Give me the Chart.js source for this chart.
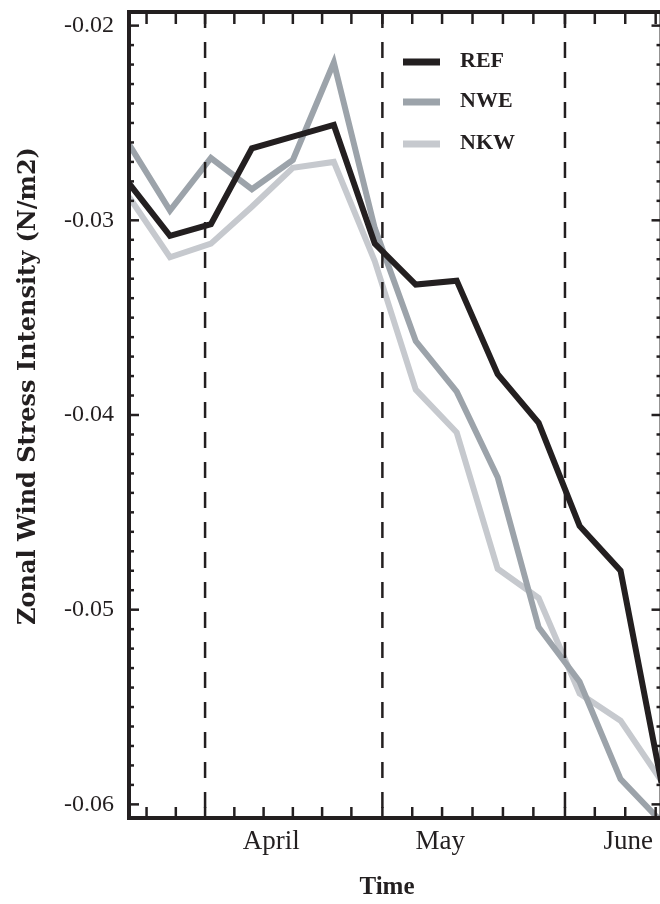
<!DOCTYPE html>
<html>
<head>
<meta charset="utf-8">
<script src="https://cdn.jsdelivr.net/npm/chart.js@4.4.0/dist/chart.umd.min.js"></script>
<style>
html,body{margin:0;padding:0;background:#fff;}
#wrap{width:660px;height:904px;position:relative;}
</style>
</head>
<body>
<div id="wrap"><canvas id="c"></canvas></div>
<script>
// ---- data ----
const seriesNames = ['REF', 'NWE', 'NKW'];
// days after 19 March (weekly samples)
const sampleDays = [0, 7, 14, 21, 28, 35, 42, 49, 56, 63, 70, 77, 84, 91];
const refValues = [-0.0281, -0.0308, -0.0302, -0.0263, -0.0257, -0.0251, -0.0312, -0.0333, -0.0331, -0.0379, -0.0404, -0.0457, -0.0480, -0.0589];
const nweValues = [-0.0261, -0.0295, -0.0268, -0.0284, -0.0269, -0.0219, -0.0304, -0.0362, -0.0388, -0.0432, -0.0509, -0.0537, -0.0587, -0.0609];
const nkwValues = [-0.0288, -0.0319, -0.0312, -0.0293, -0.0273, -0.0270, -0.0321, -0.0387, -0.0409, -0.0479, -0.0494, -0.0543, -0.0557, -0.0588];
const yTickValues = [-0.06, -0.05, -0.04, -0.03, -0.02];
const monthNames = ['April', 'May', 'June'];
const monthLabelDays = [24.3, 53.2, 85.3];
const monthStartDays = [13, 43.3, 74.5];
const xMinorTickDays = [3, 8, 13, 18, 23, 28, 33, 38, 43.3, 48.4, 53.5, 58.7, 63.9, 69.1, 74.5, 79.6, 84.8, 90];
const xTitle = 'Time';
const yTitle = 'Zonal Wind Stress Intensity (N/m2)';

// ---- style ----
const ink = '#231f20';
const colors = ['#231f20', '#9ca3aa', '#c6c9ce'];
const seriesValues = [refValues, nweValues, nkwValues];

const yMinorTicks = [];
for (let k = 0; k <= 40; k++) yMinorTicks.push(-0.06 + k * 0.001);

const framePlugin = {
  id: 'frame',
  afterDatasetsDraw(chart) {
    const { ctx, chartArea: a, scales: { x, y } } = chart;
    const line = (x1, y1, x2, y2) => { ctx.beginPath(); ctx.moveTo(x1, y1); ctx.lineTo(x2, y2); ctx.stroke(); };
    // the figure's right frame sits at the last sample (just past the visible edge)
    const xr = x.getPixelForValue(sampleDays[sampleDays.length - 1]);
    ctx.save();
    ctx.strokeStyle = ink;
    ctx.lineCap = 'butt';
    // dashed month boundaries
    ctx.lineWidth = 2.5;
    ctx.setLineDash([16, 14]);
    monthStartDays.forEach(d => { const px = x.getPixelForValue(d); line(px, a.top, px, a.bottom); });
    ctx.setLineDash([]);
    // x ticks (inward, bottom and top)
    ctx.lineWidth = 2.5;
    xMinorTickDays.forEach(d => {
      const px = x.getPixelForValue(d);
      line(px, a.bottom, px, a.bottom - 11);
      line(px, a.top, px, a.top + 12);
    });
    // y ticks (inward, left and right)
    yMinorTicks.forEach(v => {
      const py = y.getPixelForValue(v);
      const major = yTickValues.some(t => Math.abs(t - v) < 1e-6);
      const L = major ? 10 : 5;
      ctx.lineWidth = 2.5;
      line(a.left, py, a.left + L, py);
      line(xr, py, xr - L, py);
    });
    // spines
    ctx.lineWidth = 4;
    ctx.lineCap = 'square';
    line(a.left, a.top, xr, a.top);
    line(a.left, a.bottom, xr, a.bottom);
    line(a.left, a.top, a.left, a.bottom);
    line(xr, a.top, xr, a.bottom);
    ctx.lineCap = 'butt';
    // legend
    const legY = [62, 102, 144];
    ctx.font = 'bold 22px "Liberation Serif"';
    ctx.textBaseline = 'middle';
    ctx.textAlign = 'left';
    seriesNames.forEach((n, i) => {
      ctx.strokeStyle = colors[i];
      ctx.lineWidth = 7;
      line(403, legY[i], 440, legY[i]);
      ctx.fillStyle = ink;
      ctx.fillText(n, 460, legY[i] - 1);
    });
    // axis titles
    ctx.fillStyle = ink;
    ctx.font = 'bold 25px "Liberation Serif"';
    ctx.textAlign = 'center';
    ctx.textBaseline = 'middle';
    ctx.fillText(xTitle, 387, 888);
    ctx.save();
    ctx.translate(29, 386);
    ctx.rotate(-Math.PI / 2);
    ctx.font = 'bold 24px "DejaVu Serif"';
    ctx.fillText(yTitle, 0, 0);
    ctx.restore();
    ctx.restore();
  }
};

new Chart(document.getElementById('c'), {
  type: 'line',
  data: {
    datasets: seriesNames.map((n, i) => ({
      label: n,
      data: sampleDays.map((d, j) => ({ x: d, y: seriesValues[i][j] })),
      borderColor: colors[i],
      backgroundColor: colors[i],
      borderWidth: 6,
      pointRadius: 0,
      tension: 0,
      borderJoinStyle: 'miter',
      borderCapStyle: 'butt',
      fill: false
    }))
  },
  options: {
    responsive: true,
    maintainAspectRatio: false,
    animation: false,
    devicePixelRatio: 1,
    layout: { padding: { top: 12, right: 0, left: 0, bottom: 0 } },
    plugins: { legend: { display: false }, tooltip: { enabled: false } },
    scales: {
      x: {
        type: 'linear',
        min: 0,
        max: 90.74,
        grid: { display: false, drawTicks: false },
        border: { display: false },
        afterFit: s => { s.height = 86; s.paddingLeft = 0; s.paddingRight = 0; },
        afterBuildTicks: s => { s.ticks = monthLabelDays.map(v => ({ value: v })); },
        ticks: {
          autoSkip: false,
          maxRotation: 0,
          padding: 8,
          color: ink,
          font: { family: '"Liberation Serif"', size: 27 },
          callback: (v, i) => monthNames[i]
        }
      },
      y: {
        type: 'linear',
        min: -0.0607,
        max: -0.0193,
        grid: { display: false, drawTicks: false },
        border: { display: false },
        afterFit: s => { s.width = 129; s.paddingTop = 0; s.paddingBottom = 0; },
        afterBuildTicks: s => { s.ticks = yTickValues.map(v => ({ value: v })); },
        ticks: {
          padding: 15,
          color: ink,
          font: { family: '"Liberation Serif"', size: 24 },
          callback: v => v.toFixed(2)
        }
      }
    }
  },
  plugins: [framePlugin]
});
</script>
</body>
</html>
